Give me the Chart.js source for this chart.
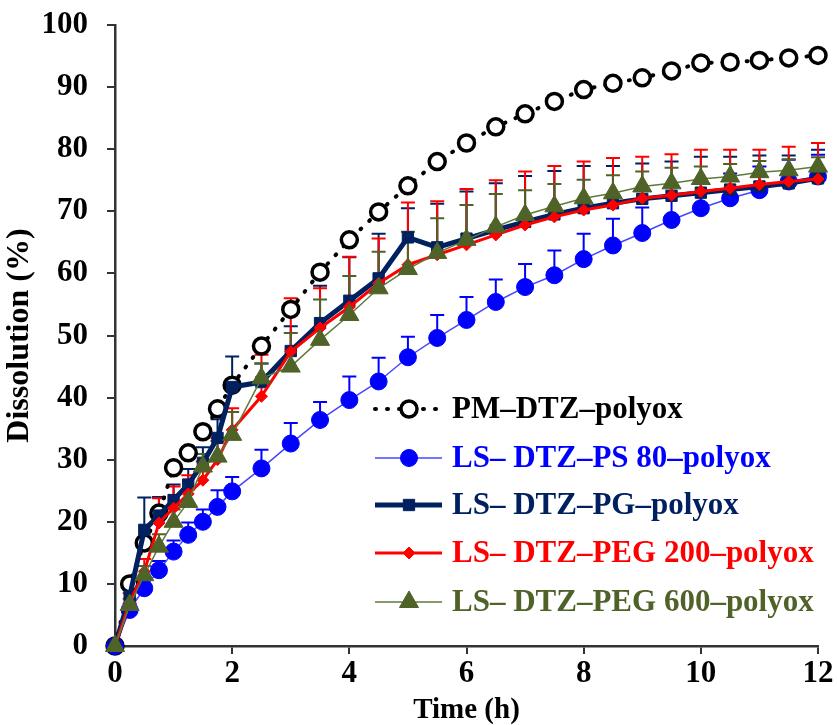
<!DOCTYPE html>
<html lang="en">
<head>
    <meta charset="UTF-8">
    <title>Dissolution profiles</title>
    <script src="https://cdn.jsdelivr.net/npm/chart.js"></script>
    <style>
        html, body { margin: 0; padding: 0; background: #fff; }
        #wrap { position: relative; width: 837px; height: 725px; }
    </style>
</head>
<body>
<div id="wrap"><canvas id="chart"></canvas></div>
<script>
// --- data ---
const timeH = [0, 0.25, 0.5, 0.75, 1, 1.25, 1.5, 1.75, 2, 2.5, 3, 3.5, 4, 4.5, 5, 5.5, 6, 6.5, 7, 7.5, 8, 8.5, 9, 9.5, 10, 10.5, 11, 11.5, 12];

const pmDtz = [0, 10, 16.6, 21.4, 28.7, 31.1, 34.5, 38.2, 42, 48.3, 54.2, 60.2, 65.4, 69.9, 74.1, 78, 81, 83.6, 85.7, 87.7, 89.6, 90.6, 91.5, 92.6, 93.9, 94, 94.3, 94.7, 95.1];

const ps80 = [0, 5.8, 9.3, 12.2, 15.2, 17.9, 20, 22.4, 24.9, 28.6, 32.6, 36.4, 39.6, 42.6, 46.5, 49.6, 52.5, 55.4, 57.8, 59.7, 62.3, 64.5, 66.5, 68.6, 70.5, 72.1, 73.4, 74.8, 75.6];
const ps80Err = [0, 1, 1.5, 1.5, 1.8, 2, 2, 2.7, 2.3, 3, 3.3, 2.9, 3.8, 3.8, 3.3, 3.7, 3.7, 3.6, 3.7, 4, 4.1, 4.3, 4.1, 4, 4, 4, 3.8, 3.5, 3.5];

const pg = [0, 8, 18.7, 21, 23.5, 26, 29.5, 33.5, 41.7, 42.5, 47.5, 52, 55.6, 59.2, 65.8, 64.2, 65.6, 67, 68.3, 69.5, 70.5, 71.3, 72, 72.5, 73, 73.5, 74, 74.5, 75.3];
const pgErr = [0, 2, 5.2, 3, 2.5, 2.5, 2.5, 3, 4.9, 3, 4, 6, 7, 7.2, 4.7, 7, 7.6, 7.5, 7.4, 7, 6.8, 6, 5.7, 5.5, 5.8, 5.3, 5, 4.5, 4.6];

const peg200 = [0, 7, 12, 19.8, 22.2, 24.5, 26.7, 30, 34.8, 40.2, 47.4, 51.2, 54.6, 58.4, 61.4, 63, 64.6, 66.2, 67.8, 69.1, 70.2, 71, 72.1, 72.6, 73.2, 73.7, 74.3, 74.8, 75.2];
const peg200Err = [0, 1.5, 2, 4, 3.5, 3, 3, 3.5, 3.5, 6.7, 8.6, 6.4, 8.1, 7.2, 10, 8.6, 9, 8.8, 8.6, 8.2, 7.8, 7.6, 6.7, 6.6, 6.7, 6.2, 5.6, 5.6, 5.8];

const peg600 = [0, 6.6, 11.4, 16, 20, 23.2, 28.9, 30.5, 34, 43.1, 45, 49.3, 53.3, 57.6, 60.7, 63.3, 65.4, 67.5, 69.4, 70.8, 72.1, 72.9, 74, 74.5, 75.2, 75.6, 76.3, 76.6, 77.2];
const peg600Err = [0, 1, 1.5, 2, 2, 2, 2, 2.5, 3.7, 2.4, 5.4, 6.5, 6.3, 5.9, 6, 5.6, 5.6, 5.3, 4, 3.6, 3, 2.9, 2.4, 2.5, 2, 2, 1.8, 1.8, 1.5];

const xTicks = [0, 2, 4, 6, 8, 10, 12];
const yTicks = [0, 10, 20, 30, 40, 50, 60, 70, 80, 90, 100];

const seriesNames = ['PM\u2013DTZ\u2013polyox', 'LS\u2013 DTZ\u2013PS 80\u2013polyox', 'LS\u2013 DTZ\u2013PG\u2013polyox', 'LS\u2013 DTZ\u2013PEG 200\u2013polyox', 'LS\u2013 DTZ\u2013PEG 600\u2013polyox'];

const serif = "'Liberation Serif', 'Times New Roman', serif";

function pts(arr) {
    return arr.map((v, i) => ({ x: timeH[i], y: v }));
}

// upper error bars, drawn under the markers
const errorBars = {
    id: 'errorBars',
    beforeDatasetsDraw(chart) {
        const { ctx, scales: { x, y } } = chart;
        ctx.save();
        chart.data.datasets.forEach((ds) => {
            if (!ds.err) return;
            ctx.strokeStyle = ds.errColor;
            ctx.lineWidth = 2;
            ds.data.forEach((p, i) => {
                const e = ds.err[i];
                if (!e) return;
                const px = x.getPixelForValue(p.x);
                const y0 = y.getPixelForValue(p.y);
                const y1 = y.getPixelForValue(p.y + e);
                ctx.beginPath();
                ctx.moveTo(px, y0);
                ctx.lineTo(px, y1);
                ctx.moveTo(px - 7, y1);
                ctx.lineTo(px + 7, y1);
                ctx.stroke();
            });
        });
        ctx.restore();
    }
};

// legend inside the plot, bottom right, text coloured like its series
const insideLegend = {
    id: 'insideLegend',
    afterDraw(chart) {
        const ctx = chart.ctx;
        const x0 = 375, x1 = 442, xm = 409, tx = 452;
        const rows = [409, 458, 505, 553, 602];
        ctx.save();
        chart.data.datasets.forEach((ds, i) => {
            const yy = rows[i];
            ctx.strokeStyle = ds.borderColor;
            ctx.lineWidth = ds.borderWidth;
            ctx.setLineDash(ds.borderDash || []);
            ctx.lineCap = ds.borderCapStyle || 'butt';
            ctx.beginPath();
            ctx.moveTo(x0, yy);
            ctx.lineTo(x1, yy);
            ctx.stroke();
            ctx.setLineDash([]);
            ctx.lineCap = 'butt';
            ctx.fillStyle = ds.pointBackgroundColor;
            ctx.strokeStyle = ds.pointBorderColor;
            ctx.lineWidth = ds.pointBorderWidth;
            Chart.helpers.drawPoint(ctx, { pointStyle: ds.pointStyle, radius: ds.pointRadius, rotation: 0, borderWidth: ds.pointBorderWidth }, xm, yy);
            ctx.fillStyle = ds.textColor;
            ctx.font = 'bold 31px ' + serif;
            ctx.textBaseline = 'middle';
            ctx.textAlign = 'left';
            ctx.fillText(seriesNames[i], tx, yy + 1);
        });
        ctx.restore();
    }
};

new Chart(document.getElementById('chart'), {
    type: 'line',
    data: {
        datasets: [
            {
                label: seriesNames[0], data: pts(pmDtz), order: 5, clip: false,
                borderColor: '#000', borderWidth: 4, borderDash: [1, 11], borderCapStyle: 'round',
                pointStyle: 'circle', pointRadius: 8, pointBorderWidth: 3.5,
                pointBackgroundColor: '#fff', pointBorderColor: '#000', textColor: '#000'
            },
            {
                label: seriesNames[1], data: pts(ps80), err: ps80Err, errColor: '#0000ff', order: 4, clip: false,
                borderColor: '#4646ff', borderWidth: 1.5,
                pointStyle: 'circle', pointRadius: 8.5, pointBorderWidth: 1,
                pointBackgroundColor: '#0000ff', pointBorderColor: '#0000ff', textColor: '#0000ff'
            },
            {
                label: seriesNames[2], data: pts(pg), err: pgErr, errColor: '#002060', order: 3, clip: false,
                borderColor: '#002060', borderWidth: 5,
                pointStyle: 'rect', pointRadius: 8, pointBorderWidth: 1,
                pointBackgroundColor: '#002060', pointBorderColor: '#002060', textColor: '#002060'
            },
            {
                label: seriesNames[3], data: pts(peg200), err: peg200Err, errColor: '#ff0000', order: 2, clip: false,
                borderColor: '#ff0000', borderWidth: 3,
                pointStyle: 'rectRot', pointRadius: 6, pointBorderWidth: 1,
                pointBackgroundColor: '#ff0000', pointBorderColor: '#ff0000', textColor: '#ff0000'
            },
            {
                label: seriesNames[4], data: pts(peg600), err: peg600Err, errColor: '#4f6228', order: 1, clip: false,
                borderColor: '#5e7a3a', borderWidth: 1.5,
                pointStyle: 'triangle', pointRadius: 11, pointBorderWidth: 1,
                pointBackgroundColor: '#4f6228', pointBorderColor: '#4f6228', textColor: '#4f6228'
            }
        ]
    },
    options: {
        animation: false,
        responsive: true,
        maintainAspectRatio: false,
        devicePixelRatio: 1,
        layout: { padding: { left: 0, right: 19, top: 25, bottom: 0 } },
        plugins: { legend: { display: false }, tooltip: { enabled: false } },
        scales: {
            x: {
                type: 'linear', min: 0, max: 12,
                afterBuildTicks: (s) => { s.ticks = xTicks.map(v => ({ value: v })); },
                afterFit: (s) => { s.height = 79; s.paddingLeft = 0; s.paddingRight = 0; },
                grid: { drawOnChartArea: false, drawTicks: true, tickLength: 8, color: '#333', lineWidth: 2 },
                border: { display: true, color: '#333', width: 2.5 },
                ticks: { color: '#000', padding: 1, font: { family: serif, size: 31, weight: 'bold' } },
                title: { display: true, text: 'Time (h)', color: '#000', padding: 0, font: { family: serif, size: 29, weight: 'bold', lineHeight: 1 } }
            },
            y: {
                type: 'linear', min: 0, max: 100,
                afterBuildTicks: (s) => { s.ticks = yTicks.map(v => ({ value: v })); },
                afterFit: (s) => { s.width = 115; s.paddingTop = 0; s.paddingBottom = 0; },
                grid: { drawOnChartArea: false, drawTicks: true, tickLength: 8, color: '#333', lineWidth: 2 },
                border: { display: true, color: '#333', width: 2.5 },
                ticks: { color: '#000', padding: 19, font: { family: serif, size: 31, weight: 'bold' } },
                title: { display: true, text: 'Dissolution (%)', color: '#000', padding: 4, font: { family: serif, size: 32, weight: 'bold', lineHeight: 1 } }
            }
        }
    },
    plugins: [errorBars, insideLegend]
});
</script>
</body>
</html>
